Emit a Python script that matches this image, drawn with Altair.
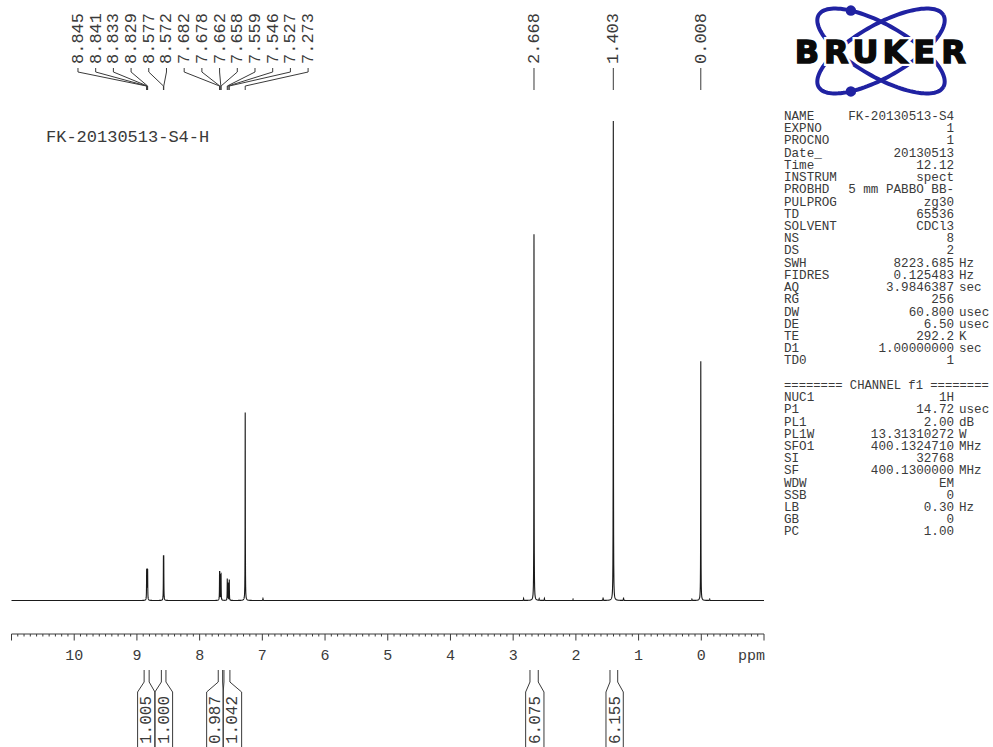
import numpy as np
import pandas as pd
import altair as alt

MONO = "Liberation Mono"
INK = "#3a3a3a"
TRACE = "#1a1a1a"
LOGO_BLUE = "#2022a2"

# ---------------------------------------------------------------- geometry
PPM_DOMAIN = [11.0, -1.0]          # chemical-shift axis runs right to left
PPM_RANGE = [11.5, 764.0]          # pixel span of the ppm axis
Y_BASE, Y_TOP = 600.5, 121.0       # pixel rows of zero and full-scale intensity
AXIS_Y = 634

# ---------------------------------------------------------------- spectrum
PEAK_PPM = [8.845, 8.841, 8.833, 8.829, 8.577, 8.572,
            7.682, 7.678, 7.662, 7.658, 7.559, 7.546, 7.527,
            7.273, 6.990,
            2.834, 2.668, 2.585, 2.502, 2.045,
            1.566, 1.403, 1.240,
            0.150, 0.008, -0.135]
PEAK_HEIGHT = [5.2, 5.2, 5.2, 5.2, 8.3, 8.3,
               5.0, 5.0, 4.5, 4.5, 4.5, 3.6, 4.3,
               39.2, 0.4,
               0.45, 76.4, 0.35, 0.45, 0.3,
               0.6, 100.0, 0.6,
               0.3, 49.9, 0.3]
LINE_HALF_WIDTH = 0.002            # Lorentzian half width, ppm

# ---------------------------------------------------------------- peak picking
PEAK_LABELS = ["8.845", "8.841", "8.833", "8.829", "8.577", "8.572",
               "7.682", "7.678", "7.662", "7.658", "7.559", "7.546",
               "7.527", "7.273", "2.668", "1.403", "0.008"]
GROUPED_LABELS = 14                # labels fanned out over the aromatic region
LABEL_FIRST_PPM = 9.940
LABEL_STEP_PPM = 0.2823

# ---------------------------------------------------------------- integrals
INT_TEXT = ["1.005", "1.000", "0.987", "1.042", "6.075", "6.155"]
INT_FROM = [8.885, 8.610, 7.703, 7.612, 2.732, 1.456]
INT_TO = [8.805, 8.537, 7.633, 7.517, 2.600, 1.333]
BOX_LEFT = [8.989, 8.713, 7.888, 7.624, 2.801, 1.520]
BOX_RIGHT = [8.713, 8.431, 7.624, 7.330, 2.509, 1.244]

# ---------------------------------------------------------------- axis
TICK_LABELS = [10, 9, 8, 7, 6, 5, 4, 3, 2, 1, 0]

# ---------------------------------------------------------------- parameters
TITLE = "FK-20130513-S4-H"
PARAM_NAMES = ["NAME", "EXPNO", "PROCNO", "Date_", "Time", "INSTRUM", "PROBHD",
               "PULPROG", "TD", "SOLVENT", "NS", "DS", "SWH", "FIDRES", "AQ",
               "RG", "DW", "DE", "TE", "D1", "TD0", "", "",
               "NUC1", "P1", "PL1", "PL1W", "SFO1", "SI", "SF", "WDW", "SSB",
               "LB", "GB", "PC"]
PARAM_VALUES = ["FK-20130513-S4", "1", "1", "20130513", "12.12", "spect",
                "5 mm PABBO BB-", "zg30", "65536", "CDCl3", "8", "2",
                "8223.685", "0.125483", "3.9846387", "256", "60.800", "6.50",
                "292.2", "1.00000000", "1", "", "",
                "1H", "14.72", "2.00", "13.31310272", "400.1324710", "32768",
                "400.1300000", "EM", "0", "0.30", "0", "1.00"]
PARAM_UNITS = ["", "", "", "", "", "", "", "", "", "", "", "", "Hz", "Hz",
               "sec", "", "usec", "usec", "K", "sec", "", "", "",
               "", "usec", "dB", "W", "MHz", "", "MHz", "", "", "Hz", "", ""]
CHANNEL_HEADER = "======== CHANNEL f1 ========"
CHANNEL_ROW = 22

ppm_scale = alt.Scale(domain=PPM_DOMAIN, range=PPM_RANGE, nice=False, zero=False)
int_scale = alt.Scale(domain=[0, 100], range=[Y_BASE, Y_TOP], nice=False, zero=False)

# --- spectrum trace: sum of Lorentzian lines, sampled densely round each line
grid = np.round(np.arange(-1.0, 11.0 + 1e-9, 0.004), 4)
offs = np.array([0, 0.0004, 0.0008, 0.0012, 0.0018, 0.0025, 0.0035, 0.005,
                 0.007, 0.01, 0.015, 0.02, 0.03])
near = np.concatenate([c + np.concatenate([-offs, offs]) for c in PEAK_PPM])
ppm = np.unique(np.round(np.concatenate([grid, near]), 5))
ppm = ppm[(ppm >= PPM_DOMAIN[1]) & (ppm <= PPM_DOMAIN[0])]
g2 = LINE_HALF_WIDTH ** 2
inten = np.zeros_like(ppm)
for c, h in zip(PEAK_PPM, PEAK_HEIGHT):
    inten += h * g2 / (g2 + (ppm - c) ** 2)
spec_df = pd.DataFrame({"ppm": ppm, "inten": inten})

spectrum = alt.Chart(spec_df).mark_line(color=TRACE, strokeWidth=1.1).encode(
    x=alt.X("ppm:Q", scale=ppm_scale, axis=None),
    y=alt.Y("inten:Q", scale=int_scale, axis=None),
    order=alt.Order("ppm:Q"),
)

# --- peak labels and their leaders
label_pos = [LABEL_FIRST_PPM - i * LABEL_STEP_PPM for i in range(GROUPED_LABELS)]
label_pos += [float(t) for t in PEAK_LABELS[GROUPED_LABELS:]]
lab_df = pd.DataFrame({"lx": label_pos, "text": PEAK_LABELS})
peak_text = alt.Chart(lab_df).mark_text(
    font=MONO, fontSize=17, color=INK, angle=270, align="left", baseline="middle"
).encode(
    x=alt.X("lx:Q", scale=ppm_scale, axis=None),
    y=alt.value(64),
    text="text:N",
)

lead_rows = []
for k, (lx, t) in enumerate(zip(label_pos, PEAK_LABELS)):
    px = float(t)
    for i, (xx, yy) in enumerate([(lx, 68), (lx, 72), (px, 86), (px, 90)]):
        lead_rows.append({"k": k, "i": i, "x": xx, "y": yy})
leaders = alt.Chart(pd.DataFrame(lead_rows)).mark_line(color=INK, strokeWidth=1).encode(
    x=alt.X("x:Q", scale=ppm_scale, axis=None),
    y=alt.Y("y:Q", scale=None),
    detail="k:N",
    order=alt.Order("i:Q"),
)

# --- integral brackets and values
br_rows = []
for k in range(len(INT_TEXT)):
    left = [(BOX_LEFT[k], 760), (BOX_LEFT[k], 692), (INT_FROM[k], 682), (INT_FROM[k], 670)]
    right = [(INT_TO[k], 670), (INT_TO[k], 682), (BOX_RIGHT[k], 692), (BOX_RIGHT[k], 760)]
    for side, pts in (("l", left), ("r", right)):
        for i, (xx, yy) in enumerate(pts):
            br_rows.append({"k": f"{k}{side}", "i": i, "x": xx, "y": yy})
brackets = alt.Chart(pd.DataFrame(br_rows)).mark_line(color=INK, strokeWidth=1).encode(
    x=alt.X("x:Q", scale=ppm_scale, axis=None),
    y=alt.Y("y:Q", scale=None),
    detail="k:N",
    order=alt.Order("i:Q"),
)
int_df = pd.DataFrame({
    "cx": [(a + b) / 2 for a, b in zip(BOX_LEFT, BOX_RIGHT)],
    "text": INT_TEXT,
})
int_text = alt.Chart(int_df).mark_text(
    font=MONO, fontSize=16, color=INK, angle=270, align="left", baseline="middle"
).encode(
    x=alt.X("cx:Q", scale=ppm_scale, axis=None),
    y=alt.value(744),
    text="text:N",
)

# --- ppm axis drawn as rules on the same scale
axis_line = alt.Chart(pd.DataFrame({"a": [PPM_DOMAIN[0]], "b": [PPM_DOMAIN[1]]})).mark_rule(
    color=INK, strokeWidth=1
).encode(
    x=alt.X("a:Q", scale=ppm_scale, axis=None), x2="b:Q", y=alt.value(AXIS_Y)
)
steps = np.arange(-10, 111)
minor_df = pd.DataFrame({"t": [s / 10 for s in steps if s % 10 != 0]})
major_df = pd.DataFrame({"t": [s / 10 for s in steps if s % 10 == 0]})
minor_ticks = alt.Chart(minor_df).mark_rule(color=INK, strokeWidth=1).encode(
    x=alt.X("t:Q", scale=ppm_scale, axis=None), y=alt.value(AXIS_Y), y2=alt.value(AXIS_Y + 2.5)
)
major_ticks = alt.Chart(major_df).mark_rule(color=INK, strokeWidth=1).encode(
    x=alt.X("t:Q", scale=ppm_scale, axis=None), y=alt.value(AXIS_Y), y2=alt.value(AXIS_Y + 6.5)
)
tick_text = alt.Chart(pd.DataFrame({"t": TICK_LABELS})).mark_text(
    font=MONO, fontSize=15, color=INK, baseline="middle"
).encode(
    x=alt.X("t:Q", scale=ppm_scale, axis=None), y=alt.value(655), text="t:Q"
)
unit_text = alt.Chart(pd.DataFrame({"s": ["ppm"]})).mark_text(
    font=MONO, fontSize=15, color=INK, align="right", baseline="middle"
).encode(x=alt.value(765), y=alt.value(655), text="s:N")

# --- sample name
title = alt.Chart(pd.DataFrame({"s": [TITLE]})).mark_text(
    font=MONO, fontSize=17, color=INK, align="left", baseline="middle"
).encode(x=alt.value(46), y=alt.value(137), text="s:N")

# --- acquisition / processing parameter listing
row_y = [116 + i * 12.22 for i in range(len(PARAM_NAMES))]
par_df = pd.DataFrame({"y": row_y, "name": PARAM_NAMES, "value": PARAM_VALUES, "unit": PARAM_UNITS})
par_base = alt.Chart(par_df)
par_kw = dict(font=MONO, color=INK, baseline="middle")
par_names = par_base.mark_text(align="left", fontSize=12.6, **par_kw).encode(
    x=alt.value(784), y=alt.Y("y:Q", scale=None), text="name:N")
par_values = par_base.mark_text(align="right", fontSize=12.6, **par_kw).encode(
    x=alt.value(954), y=alt.Y("y:Q", scale=None), text="value:N")
par_units = par_base.mark_text(align="left", fontSize=12.6, **par_kw).encode(
    x=alt.value(959), y=alt.Y("y:Q", scale=None), text="unit:N")
channel = alt.Chart(pd.DataFrame({"s": [CHANNEL_HEADER], "y": [row_y[CHANNEL_ROW]]})).mark_text(
    align="left", fontSize=12.2, **par_kw
).encode(x=alt.value(784), y=alt.Y("y:Q", scale=None), text="s:N")

# --- instrument logo: two crossed orbits, two electrons and the word mark
LOGO_CX, LOGO_CY = 881.0, 51.0
ORBIT_A, ORBIT_B, ORBIT_TILT = 72.0, 26.0, 30.0
t = np.linspace(0, 2 * np.pi, 121)
orbit_rows = []
for k, tilt in enumerate([ORBIT_TILT, -ORBIT_TILT]):
    th = np.radians(tilt)
    ex = LOGO_CX + ORBIT_A * np.cos(t) * np.cos(th) - ORBIT_B * np.sin(t) * np.sin(th)
    ey = LOGO_CY + ORBIT_A * np.cos(t) * np.sin(th) + ORBIT_B * np.sin(t) * np.cos(th)
    for i in range(len(t)):
        orbit_rows.append({"k": k, "i": i, "x": ex[i], "y": ey[i]})
orbits = alt.Chart(pd.DataFrame(orbit_rows)).mark_line(color=LOGO_BLUE, strokeWidth=4).encode(
    x=alt.X("x:Q", scale=None), y=alt.Y("y:Q", scale=None), detail="k:N", order=alt.Order("i:Q")
)
te = np.radians(230)
th = np.radians(ORBIT_TILT)
dx = ORBIT_A * np.cos(te) * np.cos(th) - ORBIT_B * np.sin(te) * np.sin(th)
dy = ORBIT_A * np.cos(te) * np.sin(th) + ORBIT_B * np.sin(te) * np.cos(th)
electrons = alt.Chart(pd.DataFrame({"x": [LOGO_CX + dx, LOGO_CX + dx],
                                     "y": [LOGO_CY + dy, LOGO_CY - dy]})).mark_point(
    filled=True, color=LOGO_BLUE, opacity=1, size=110, shape="circle"
).encode(x=alt.X("x:Q", scale=None), y=alt.Y("y:Q", scale=None))

LOGO_WORD = list("BRUKER")
word_df = pd.DataFrame({"c": LOGO_WORD, "x": [807 + i * 29.3 for i in range(len(LOGO_WORD))]})
word_kw = dict(font="DejaVu Sans", fontSize=32, fontWeight="bold", align="center", baseline="alphabetic")
word_halo = alt.Chart(word_df).mark_text(stroke="white", strokeWidth=6, fill="white", **word_kw).encode(
    x=alt.X("x:Q", scale=None), y=alt.value(62.5), text="c:N")
word = alt.Chart(word_df).mark_text(color="#0a0a0a", stroke="#0a0a0a", strokeWidth=1.4, **word_kw).encode(
    x=alt.X("x:Q", scale=None), y=alt.value(62.5), text="c:N")

chart = alt.layer(
    spectrum, leaders, peak_text, brackets, int_text,
    axis_line, minor_ticks, major_ticks, tick_text, unit_text,
    title, par_names, par_values, par_units, channel,
    orbits, word_halo, word, electrons,
).resolve_scale(
    x="independent", y="independent"
).properties(
    width=993, height=747,
    autosize=alt.AutoSizeParams(type="none"),
    padding=0,
    background="white",
).configure_view(stroke=None)

chart.save("out.html", embed_options={"renderer": "svg", "actions": False})
